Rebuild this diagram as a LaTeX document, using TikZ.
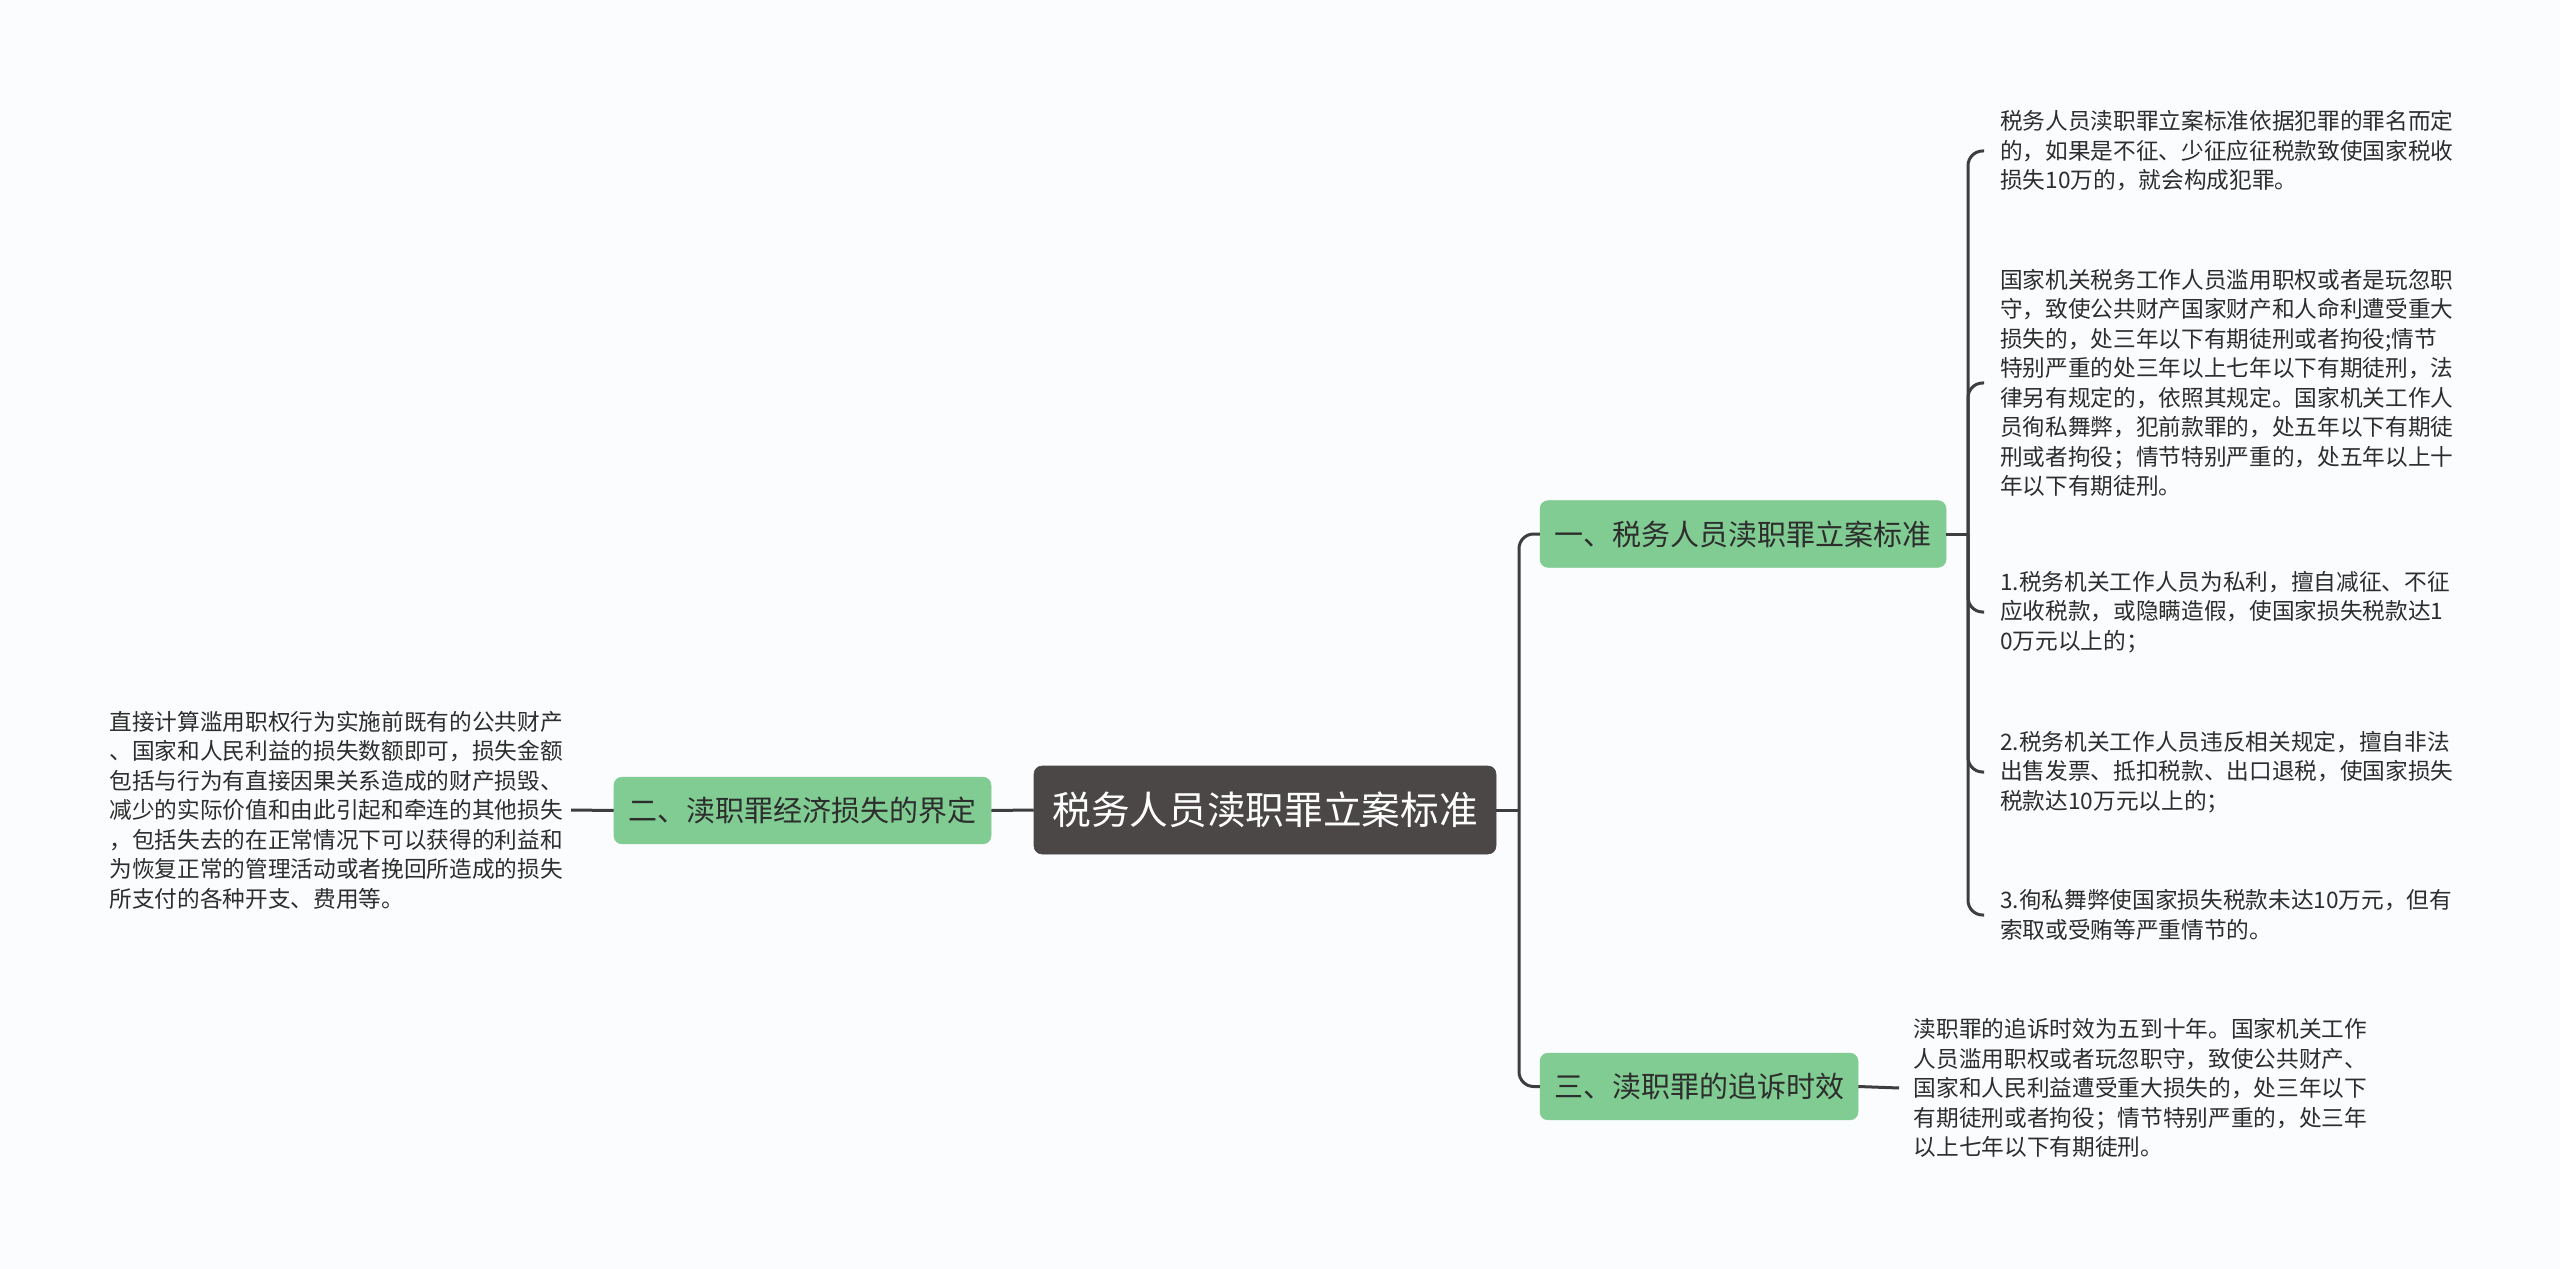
\documentclass[tikz,border=0pt]{standalone}
\usepackage{fontspec}
\setmainfont{Noto Sans CJK SC}
\definecolor{bgc}{RGB}{250,252,253}
\definecolor{darkbox}{RGB}{75,71,71}
\definecolor{greenbox}{RGB}{128,204,146}
\definecolor{linec}{RGB}{62,62,62}
\definecolor{txtc}{RGB}{45,45,45}
\tikzset{
  rootbox/.style={fill=darkbox, draw=darkbox, rounded corners=6pt, text=white,
    font=\fontsize{29}{34}\selectfont, minimum width=346.5pt, minimum height=66pt, inner xsep=4pt},
  branchbox/.style={fill=greenbox, draw=greenbox, rounded corners=6pt, text=txtc,
    font=\fontsize{21.75}{26}\selectfont, minimum height=50pt, inner xsep=4pt},
  leaf/.style={align=left, text=txtc, font=\fontsize{17}{22.1}\selectfont, inner ysep=0pt},
  conn/.style={draw=linec, line width=2.25pt},
  rconn/.style={conn, rounded corners=11pt},
}
\begin{document}
\begin{tikzpicture}[x=0.75pt,y=-0.75pt]
\fill[bgc] (0,0) rectangle (2560,1269);
\useasboundingbox (0,0) rectangle (2560,1269);

% main nodes
\node[rootbox] (root) at (1265,810) {税务人员渎职罪立案标准};
\node[branchbox, minimum width=282.75pt] (b2) at (802.5,810.5) {二、渎职罪经济损失的界定};
\node[branchbox, minimum width=304.5pt] (b1) at (1743,534) {一、税务人员渎职罪立案标准};
\node[branchbox, minimum width=238.5pt] (b3) at (1699,1086.5) {三、渎职罪的追诉时效};

% left leaf
\node[leaf, anchor=east, inner xsep=6pt] (l1) at (571,810) {直接计算滥用职权行为实施前既有的公共财产\\、国家和人民利益的损失数额即可，损失金额\\包括与行为有直接因果关系造成的财产损毁、\\减少的实际价值和由此引起和牵连的其他损失\\，包括失去的在正常情况下可以获得的利益和\\为恢复正常的管理活动或者挽回所造成的损失\\所支付的各种开支、费用等。};

% right leaves of b1
\node[leaf, anchor=west, inner xsep=12pt] (c1) at (1984,151) {税务人员渎职罪立案标准依据犯罪的罪名而定\\的，如果是不征、少征应征税款致使国家税收\\损失10万的，就会构成犯罪。};
\node[leaf, anchor=west, inner xsep=12pt] (c2) at (1984,383) {国家机关税务工作人员滥用职权或者是玩忽职\\守，致使公共财产国家财产和人命利遭受重大\\损失的，处三年以下有期徒刑或者拘役;情节\\特别严重的处三年以上七年以下有期徒刑，法\\律另有规定的，依照其规定。国家机关工作人\\员徇私舞弊，犯前款罪的，处五年以下有期徒\\刑或者拘役；情节特别严重的，处五年以上十\\年以下有期徒刑。};
\node[leaf, anchor=west, inner xsep=12pt] (c3) at (1984,612) {1.税务机关工作人员为私利，擅自减征、不征\\应收税款，或隐瞒造假，使国家损失税款达1\\0万元以上的；};
\node[leaf, anchor=west, inner xsep=12pt] (c4) at (1984,772) {2.税务机关工作人员违反相关规定，擅自非法\\出售发票、抵扣税款、出口退税，使国家损失\\税款达10万元以上的；};
\node[leaf, anchor=west, inner xsep=12pt] (c5) at (1984,915) {3.徇私舞弊使国家损失税款未达10万元，但有\\索取或受贿等严重情节的。};

% leaf of b3
\node[leaf, anchor=west, inner xsep=11pt] (c6) at (1899,1088) {渎职罪的追诉时效为五到十年。国家机关工作\\人员滥用职权或者玩忽职守，致使公共财产、\\国家和人民利益遭受重大损失的，处三年以下\\有期徒刑或者拘役；情节特别严重的，处三年\\以上七年以下有期徒刑。};

% junctions
\coordinate (jr) at (1519,810);
\coordinate (j1) at (1968,534);

% connectors
\draw[conn] (root.west) -- (b2.east);
\draw[conn] (b2.west) -- (l1.east);
\draw[conn] (root.east) -- (jr);
\draw[rconn] (jr) |- (b1.west);
\draw[rconn] (jr) |- (b3.west);
\draw[conn] (b1.east) -- (j1);
\draw[rconn] (j1) |- (c1.west);
\draw[rconn] (j1) |- (c2.west);
\draw[rconn] (j1) |- (c3.west);
\draw[rconn] (j1) |- (c4.west);
\draw[rconn] (j1) |- (c5.west);
\draw[conn] (b3.east) -- (c6.west);
\end{tikzpicture}
\end{document}
